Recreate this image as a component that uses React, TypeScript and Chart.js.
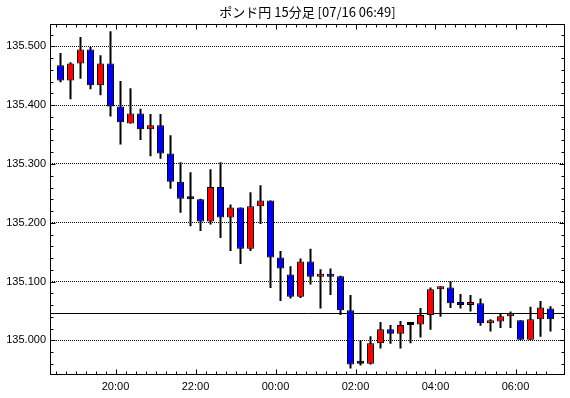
import React, { useEffect, useRef } from "react";
import { Chart, registerables } from "chart.js";

Chart.register(...registerables);

const titleText = "ポンド円 15分足 [07/16 06:49]";

const times = [
  "18:30", "18:45", "19:00", "19:15", "19:30", "19:45", "20:00", "20:15", "20:30", "20:45",
  "21:00", "21:15", "21:30", "21:45", "22:00", "22:15", "22:30", "22:45", "23:00", "23:15",
  "23:30", "23:45", "00:00", "00:15", "00:30", "00:45", "01:00", "01:15", "01:30", "01:45",
  "02:00", "02:15", "02:30", "02:45", "03:00", "03:15", "03:30", "03:45", "04:00", "04:15",
  "04:30", "04:45", "05:00", "05:15", "05:30", "05:45", "06:00", "06:15", "06:30", "06:45",
];

const opens = [
  135.468, 135.442, 135.471, 135.495, 135.434, 135.471, 135.398, 135.369, 135.386, 135.359,
  135.366, 135.318, 135.27, 135.24, 135.24, 135.202, 135.261, 135.209, 135.226, 135.156,
  135.228, 135.238, 135.141, 135.112, 135.074, 135.134, 135.108, 135.113, 135.109, 135.051,
  134.96, 134.96, 134.995, 135.019, 135.011, 135.026, 135.027, 135.043, 135.087, 135.09,
  135.063, 135.06, 135.063, 135.029, 135.032, 135.041, 135.034, 135.001, 135.036, 135.054,
];

const highs = [
  135.489, 135.473, 135.516, 135.499, 135.485, 135.526, 135.441, 135.429, 135.394, 135.385,
  135.385, 135.349, 135.303, 135.286, 135.241, 135.291, 135.303, 135.231, 135.226, 135.252,
  135.264, 135.238, 135.152, 135.126, 135.139, 135.156, 135.121, 135.122, 135.11, 135.077,
  135.0, 135.007, 135.031, 135.026, 135.033, 135.029, 135.055, 135.09, 135.092, 135.101,
  135.079, 135.077, 135.071, 135.036, 135.046, 135.049, 135.034, 135.057, 135.067, 135.058,
];

const lows = [
  135.439, 135.41, 135.445, 135.427, 135.417, 135.381, 135.333, 135.369, 135.341, 135.313,
  135.309, 135.258, 135.217, 135.194, 135.186, 135.197, 135.174, 135.152, 135.13, 135.152,
  135.198, 135.089, 135.067, 135.071, 135.072, 135.095, 135.054, 135.077, 135.043, 134.952,
  134.957, 134.959, 134.986, 134.994, 134.986, 134.995, 135.005, 135.018, 135.04, 135.055,
  135.054, 135.049, 135.025, 135.015, 135.021, 135.021, 135.001, 135.001, 135.006, 135.015,
];

const closes = [
  135.442, 135.471, 135.495, 135.434, 135.471, 135.398, 135.371, 135.386, 135.359, 135.366,
  135.318, 135.27, 135.241, 135.24, 135.202, 135.261, 135.209, 135.226, 135.156, 135.228,
  135.238, 135.141, 135.122, 135.074, 135.134, 135.108, 135.113, 135.108, 135.051, 134.959,
  134.96, 134.995, 135.019, 135.011, 135.026, 135.026, 135.043, 135.087, 135.09, 135.063,
  135.06, 135.063, 135.029, 135.032, 135.041, 135.045, 135.001, 135.036, 135.056, 135.036,
];

const xTickLabels = ["20:00", "22:00", "00:00", "02:00", "04:00", "06:00"];
const yMajorTicks = [135.0, 135.1, 135.2, 135.3, 135.4, 135.5];
const priceLine = 135.046;

const Y_MIN = 134.941;
const Y_MAX = 135.5375;
const Y_STEP = 0.02;

const UP = "#ff0000";
const DOWN = "#0000ff";

const isMajorY = (v: number) => yMajorTicks.some((m) => Math.abs(m - v) < 1e-6);

const framePlugin = {
  id: "frameTicks",
  beforeDatasetsDraw(chart: any) {
    const { ctx, chartArea: a, scales } = chart;
    const py = Math.round(scales.y.getPixelForValue(priceLine)) + 0.5;
    ctx.save();
    ctx.strokeStyle = "#000";
    ctx.lineWidth = 1;
    ctx.beginPath();
    ctx.moveTo(a.left, py);
    ctx.lineTo(a.right, py);
    ctx.stroke();
    ctx.restore();
  },
  afterDraw(chart: any) {
    const { ctx, chartArea: a, scales } = chart;
    const x = scales.x;
    const y = scales.y;
    const L = Math.round(a.left) + 0.5;
    const R = Math.round(a.right) - 0.5;
    const T = Math.round(a.top) + 0.5;
    const B = Math.round(a.bottom) - 0.5;
    ctx.save();
    ctx.strokeStyle = "#000";
    ctx.lineWidth = 1;
    ctx.strokeRect(L, T, R - L, B - T);
    ctx.beginPath();
    x.ticks.forEach((t: any) => {
      const px = Math.round(x.getPixelForValue(t.value)) + 0.5;
      const len = t.label ? 5 : 3;
      ctx.moveTo(px, B);
      ctx.lineTo(px, B - len);
      ctx.moveTo(px, T);
      ctx.lineTo(px, T + len);
    });
    y.ticks.forEach((t: any) => {
      const py = Math.round(y.getPixelForValue(t.value)) + 0.5;
      const len = isMajorY(t.value) ? 5 : 3;
      ctx.moveTo(L, py);
      ctx.lineTo(L + len, py);
      ctx.moveTo(R, py);
      ctx.lineTo(R - len, py);
    });
    ctx.stroke();
    ctx.restore();
  },
};

export default function App() {
  const ref = useRef<HTMLCanvasElement>(null);

  useEffect(() => {
    const canvas = ref.current;
    if (!canvas) return;

    const bodyColors = opens.map((o, i) =>
      closes[i] > o ? UP : closes[i] < o ? DOWN : "#000000"
    );

    const chart = new Chart(canvas, {
      type: "bar",
      data: {
        datasets: [
          {
            label: "body",
            data: times.map((_, i) => ({ x: i, y: [opens[i], closes[i]] })) as any,
            backgroundColor: bodyColors,
            borderColor: "#000000",
            borderWidth: 1,
            borderSkipped: false,
            barThickness: 7,
            minBarLength: 3,
            grouped: false,
            inflateAmount: 0,
          } as any,
          {
            label: "wick",
            data: times.map((_, i) => ({ x: i, y: [lows[i], highs[i]] })) as any,
            backgroundColor: "#000000",
            borderWidth: 0,
            barThickness: 2,
            grouped: false,
            inflateAmount: 0,
          } as any,
        ],
      },
      options: {
        responsive: false,
        animation: false,
        layout: { padding: { left: 0, right: 5, top: 0, bottom: 0 } },
        plugins: {
          legend: { display: false },
          tooltip: { enabled: false },
          title: {
            display: true,
            text: titleText,
            color: "#000",
            fullSize: false,
            font: { family: '"Noto Sans CJK JP", sans-serif', size: 13, weight: "normal", lineHeight: 1.2 },
            padding: { top: 4, bottom: 4.8 },
          } as any,
        },
        scales: {
          x: {
            type: "linear",
            min: -1.05,
            max: 50.45,
            offset: false,
            grid: { display: false, drawTicks: false },
            border: { display: false },
            afterBuildTicks: (scale: any) => {
              scale.ticks = times.map((_, i) => ({ value: i - 0.5 }));
            },
            afterFit: (scale: any) => {
              scale.height = 23;
            },
            ticks: {
              autoSkip: false,
              maxRotation: 0,
              minRotation: 0,
              padding: 5,
              color: "#000",
              font: { family: '"Liberation Sans", Arial, sans-serif', size: 11 },
              callback: (value: any) => {
                const idx = Math.round(Number(value) + 0.5);
                const t = times[idx];
                return t && xTickLabels.includes(t) ? t : "";
              },
            },
          } as any,
          y: {
            type: "linear",
            min: Y_MIN,
            max: Y_MAX,
            grid: {
              drawTicks: false,
              lineWidth: 1,
              color: (ctx: any) => (ctx.tick && isMajorY(ctx.tick.value) ? "#000000" : "rgba(0,0,0,0)"),
            },
            border: { display: false, dash: [1, 1] },
            afterBuildTicks: (scale: any) => {
              const ticks: any[] = [];
              for (let k = 0; k < 30; k++) {
                const v = +(134.94 + k * Y_STEP).toFixed(2);
                if (v >= Y_MIN && v <= Y_MAX) ticks.push({ value: v });
              }
              scale.ticks = ticks;
            },
            afterFit: (scale: any) => {
              scale.width = 50;
            },
            ticks: {
              autoSkip: false,
              padding: 4,
              color: "#000",
              font: { family: '"Liberation Sans", Arial, sans-serif', size: 11 },
              callback: (value: any) => (isMajorY(Number(value)) ? Number(value).toFixed(3) : ""),
            },
          } as any,
        },
      },
      plugins: [framePlugin],
    });

    return () => chart.destroy();
  }, []);

  return (
    <div style={{ position: "fixed", left: 0, top: 0, width: 570, height: 398, background: "#fff" }}>
      <canvas ref={ref} width={570} height={398} style={{ display: "block" }} />
    </div>
  );
}
